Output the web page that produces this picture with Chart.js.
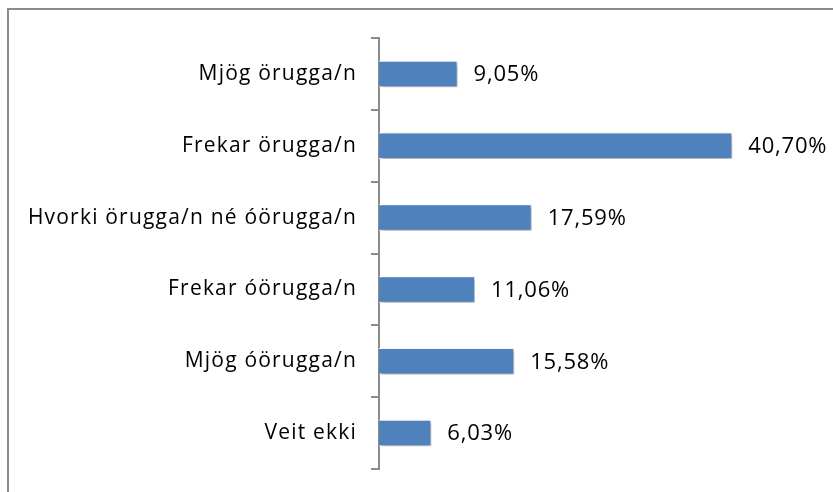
<!DOCTYPE html>
<html>
<head>
<meta charset="utf-8">
<script src="https://cdn.jsdelivr.net/npm/chart.js@4/dist/chart.umd.min.js"></script>
<style>
  html, body { margin: 0; padding: 0; background: #fff; overflow: hidden; }
  #wrap { position: relative; width: 833px; height: 492px; overflow: hidden; }
  #frame { position: absolute; left: 7px; top: 8px; width: 900px; height: 600px; border: 2px solid #8c8c8c; }
  #chartzz { position: absolute; left: 0; top: 0; }
</style>
</head>
<body>
<div id="wrap">
  <div id="frame"></div>
  <canvas id="chartzz" width="833" height="492"></canvas>
</div>
<script>
const categories = ['Mjög örugga/n', 'Frekar örugga/n', 'Hvorki örugga/n né óörugga/n', 'Frekar óörugga/n', 'Mjög óörugga/n', 'Veit ekki'];
const values = [9.05, 40.70, 17.59, 11.06, 15.58, 6.03];
const valueLabels = ['9,05%', '40,70%', '17,59%', '11,06%', '15,58%', '6,03%'];

const fontFamily = "'Open Sans', sans-serif";

// the original text looks stretched, so open it up a bit
const spacing = {
	id: 'spacing',
	beforeDraw(chart) {
		chart.ctx.letterSpacing = '1.2px';
	}
};

const barShadow = {
	id: 'barShadow',
	beforeDatasetDraw(chart) {
		const c = chart.ctx;
		c.save();
		c.shadowColor = 'rgba(0,0,0,0.35)';
		c.shadowBlur = 4;
		c.shadowOffsetX = 2;
		c.shadowOffsetY = 2;
	},
	afterDatasetDraw(chart) {
		chart.ctx.restore();
	}
};

const valueText = {
	id: 'valueText',
	afterDatasetsDraw(chart) {
		const c = chart.ctx;
		const meta = chart.getDatasetMeta(0);
		c.save();
		c.letterSpacing = '0.8px';
		c.font = '22px ' + fontFamily;
		c.fillStyle = '#000';
		c.textAlign = 'left';
		c.textBaseline = 'middle';
		meta.data.forEach((bar, i) => {
			c.fillText(valueLabels[i], bar.x + 16, bar.y + 1);
		});
		c.restore();
	}
};

const ctx1 = document.getElementById('chartzz');
const chartzz = new Chart(ctx1, {
type: 'bar',
data: {
	labels: categories,
	datasets: [{
	data: values,
	backgroundColor: '#4F81BD',
	borderColor: '#ffffff',
	borderWidth: 1,
	barPercentage: 0.37,
	categoryPercentage: 1
	}]
},
plugins: [spacing, barShadow, valueText],
options: {
	indexAxis: 'y',
	responsive: false,
	animation: false,
	events: [],
	layout: { padding: { left: 0, right: 20, top: 38, bottom: 23 } },
	plugins: {
		legend: { display: false },
		tooltip: { enabled: false }
	},
	scales: {
		x: {
			display: false,
			min: 0,
			max: 50
		},
		y: {
			afterFit(scale) {
				scale.width = 379;
				scale.paddingTop = 0;
				scale.paddingBottom = 0;
			},
			border: { display: true, color: '#8c8c8c', width: 2 },
			grid: { drawOnChartArea: false, drawTicks: true, tickLength: 8, color: '#8c8c8c', lineWidth: 2 },
			ticks: { color: '#000', padding: 14, font: { family: fontFamily, size: 21 } }
		}
	}
}
});
</script>
</body>
</html>
